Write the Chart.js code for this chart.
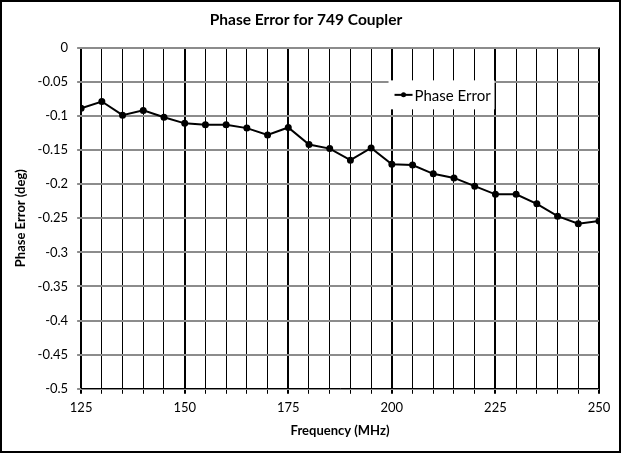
<!DOCTYPE html>
<html><head><meta charset="utf-8">
<script src="https://cdn.jsdelivr.net/npm/chart.js@4/dist/chart.umd.min.js"></script>
<style>html,body{margin:0;padding:0;background:#fff;}#wrap{width:621px;height:453px;position:relative;}</style>
</head><body><div id="wrap"><canvas id="c" width="621" height="453"></canvas></div>
<script>
const frequencies = [125,130,135,140,145,150,155,160,165,170,175,180,185,190,195,200,205,210,215,220,225,230,235,240,245,250];
const phaseError = [-0.089,-0.079,-0.099,-0.092,-0.102,-0.111,-0.113,-0.113,-0.118,-0.128,-0.117,-0.142,-0.148,-0.165,-0.147,-0.171,-0.172,-0.185,-0.191,-0.203,-0.215,-0.215,-0.229,-0.247,-0.258,-0.254];
const seriesName = "Phase Error";
const chartTitle = "Phase Error for 749 Coupler";
const xTitle = "Frequency (MHz)";
const yTitle = "Phase Error (deg)";

const FONT = "Lato, 'Open Sans', sans-serif";

const frame = {
  id: 'frame',
  beforeDraw(chart){const c=chart.ctx;c.save();c.fillStyle='#fff';c.fillRect(0,0,chart.width,chart.height);c.restore();},
  afterDraw(chart){
    const c=chart.ctx;c.save();
    c.strokeStyle='#000';c.lineWidth=2;c.strokeRect(1,1,chart.width-2,chart.height-2);
    // legend inside plot
    const x0=chart.scales.x.getPixelForValue(199.2), y0=chart.scales.y.getPixelForValue(-0.048);
    const w=106,h=29;
    c.fillStyle='#fff';c.fillRect(x0,y0,w,h);
    const ly=y0+h/2;
    c.strokeStyle='#000';c.lineWidth=2;c.beginPath();c.moveTo(x0+6,ly);c.lineTo(x0+24,ly);c.stroke();
    c.fillStyle='#000';c.beginPath();c.arc(x0+15,ly,2.5,0,Math.PI*2);c.fill();
    c.font="15px "+FONT;c.textBaseline='middle';c.textAlign='left';c.fillStyle='#000';
    c.fillText(seriesName,x0+26,ly+1);
    c.restore();
  }
};

new Chart(document.getElementById('c'),{
  type:'line',
  data:{datasets:[{label:seriesName,data:frequencies.map((f,i)=>({x:f,y:phaseError[i]})),
    borderColor:'#000',backgroundColor:'#000',borderWidth:2,pointRadius:2.5,pointHoverRadius:2.5,tension:0}]},
  options:{
    responsive:false,animation:false,
    layout:{padding:{left:13,right:22,top:5,bottom:14}},
    plugins:{legend:{display:false},tooltip:{enabled:false},
      title:{display:true,text:chartTitle,color:'#000',font:{family:FONT,size:15.5,weight:'bold'},padding:{top:6,bottom:18}}},
    scales:{
      x:{type:'linear',min:125,max:250,
        ticks:{stepSize:5,color:'#000',font:{family:FONT,size:13},autoSkip:false,maxRotation:0,padding:6,
          callback:v=>(v%25===0)?String(v):''},
        grid:{color:'#000',lineWidth:ctx=>(ctx.tick&&ctx.tick.value%25===0)?2:1,drawTicks:true,tickLength:5},
        border:{display:true,color:'#000',width:1},
        title:{display:true,text:xTitle,color:'#000',font:{family:FONT,size:13,weight:'bold'},padding:{top:2,bottom:0}}},
      y:{min:-0.5,max:0,
        ticks:{stepSize:0.05,color:'#000',font:{family:FONT,size:13},padding:9,
          callback:v=>String(parseFloat(v.toFixed(2)))},
        grid:{color:'#8c8c8c',lineWidth:2,tickLength:4},
        border:{display:false},
        title:{display:true,text:yTitle,color:'#000',font:{family:FONT,size:13,weight:'bold'},padding:{top:0,bottom:0}}}
    }
  },
  plugins:[frame]
});
</script></body></html>
